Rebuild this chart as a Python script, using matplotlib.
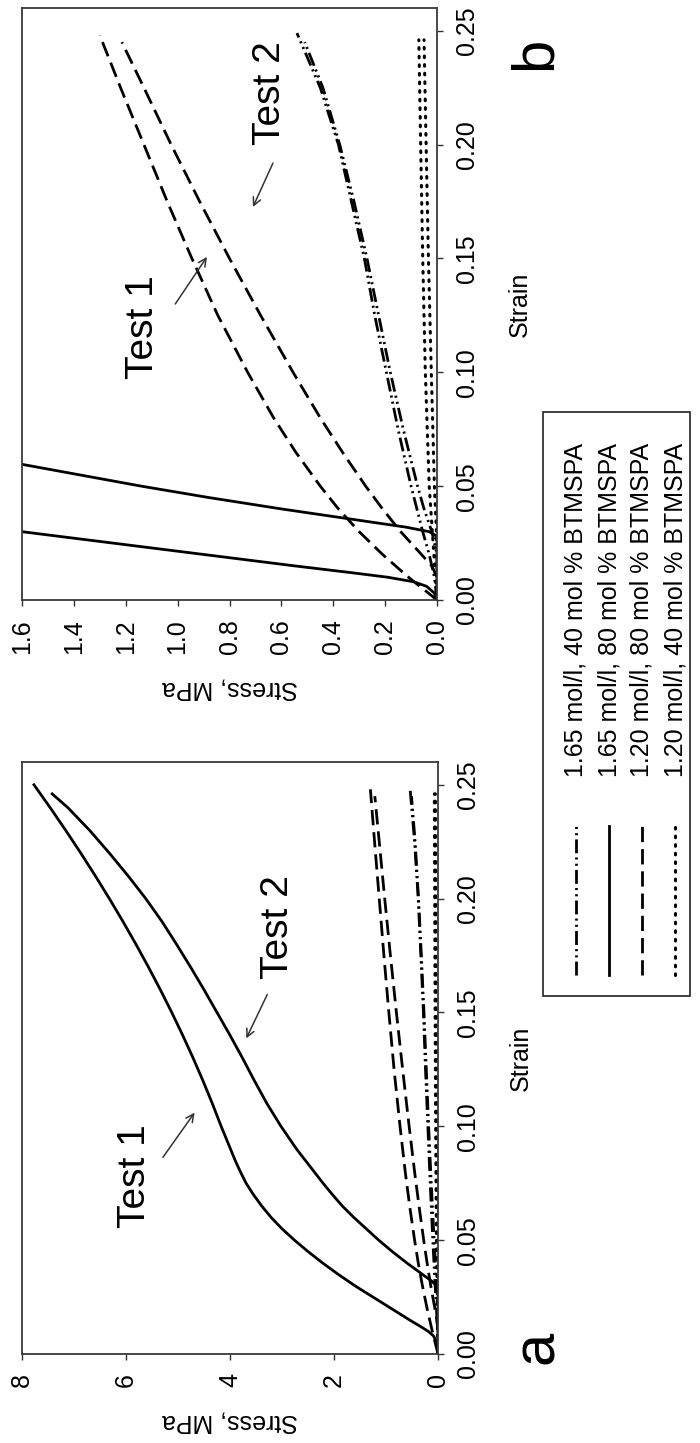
import matplotlib
matplotlib.use("Agg")
import matplotlib.pyplot as plt
from matplotlib.lines import Line2D
from matplotlib.patches import Rectangle

plt.rcParams['font.family'] = ['Liberation Sans', 'DejaVu Sans']
plt.rcParams['lines.scale_dashes'] = False

# stress-strain curves (strain, stress in MPa)
# 1.65 mol/l, 80 mol % BTMSPA (solid)
s80_t1_strain = [0, 0.003, 0.006, 0.008, 0.010, 0.012, 0.015, 0.020, 0.025, 0.030, 0.035,
                 0.040, 0.045, 0.050, 0.055, 0.060, 0.065, 0.070, 0.075, 0.080, 0.085,
                 0.090, 0.095, 0.100, 0.110, 0.120, 0.130, 0.140, 0.150, 0.160, 0.170,
                 0.180, 0.190, 0.200, 0.210, 0.220, 0.230, 0.240, 0.250]
s80_t1_stress = [0, 0.01, 0.04, 0.09, 0.19, 0.33, 0.55, 0.90, 1.25, 1.60, 1.92,
                 2.22, 2.50, 2.76, 3.00, 3.21, 3.39, 3.55, 3.69, 3.80, 3.90,
                 3.99, 4.08, 4.17, 4.34, 4.52, 4.71, 4.91, 5.12, 5.34, 5.57,
                 5.81, 6.06, 6.32, 6.59, 6.87, 7.16, 7.46, 7.77]
s80_t2_strain = [0, 0.028, 0.030, 0.032, 0.035, 0.040, 0.045, 0.050, 0.055, 0.060, 0.065,
                 0.070, 0.075, 0.080, 0.090, 0.100, 0.110, 0.120, 0.130, 0.140, 0.150,
                 0.160, 0.170, 0.180, 0.190, 0.200, 0.210, 0.220, 0.230, 0.240, 0.246]
s80_t2_stress = [0, 0.0, 0.03, 0.12, 0.30, 0.60, 0.88, 1.14, 1.38, 1.62, 1.84,
                 2.03, 2.21, 2.38, 2.72, 3.02, 3.29, 3.53, 3.76, 4.00, 4.25,
                 4.50, 4.76, 5.03, 5.31, 5.62, 5.96, 6.32, 6.70, 7.12, 7.42]

# 1.20 mol/l, 80 mol % BTMSPA (dashed)
d80_t1_strain = [0, 0.005, 0.01, 0.02, 0.03, 0.04, 0.05, 0.065, 0.08, 0.10, 0.125,
                 0.15, 0.175, 0.20, 0.225, 0.248]
d80_t1_stress = [0, 0.055, 0.11, 0.21, 0.30, 0.38, 0.45, 0.545, 0.63, 0.73, 0.845,
                 0.945, 1.04, 1.13, 1.22, 1.30]
d80_t2_strain = [0, 0.01, 0.015, 0.02, 0.03, 0.04, 0.05, 0.065, 0.08, 0.10, 0.125,
                 0.15, 0.175, 0.20, 0.225, 0.245]
d80_t2_stress = [0, 0.0, 0.02, 0.06, 0.14, 0.21, 0.275, 0.365, 0.45, 0.555, 0.68,
                 0.80, 0.915, 1.025, 1.13, 1.215]

# 1.65 mol/l, 40 mol % BTMSPA (dash-dot-dot)
s40_t1_strain = [0, 0.01, 0.02, 0.03, 0.05, 0.075, 0.10, 0.125, 0.15, 0.175, 0.20, 0.225, 0.249]
s40_t1_stress = [0, 0.01, 0.03, 0.055, 0.10, 0.15, 0.195, 0.24, 0.28, 0.33, 0.38, 0.45, 0.54]
s40_t2_strain = [0, 0.02, 0.03, 0.04, 0.05, 0.075, 0.10, 0.125, 0.15, 0.175, 0.20, 0.225, 0.245]
s40_t2_stress = [0, 0.0, 0.02, 0.05, 0.075, 0.13, 0.18, 0.225, 0.27, 0.32, 0.375, 0.44, 0.51]

# 1.20 mol/l, 40 mol % BTMSPA (dotted)
d40_t1_strain = [0, 0.02, 0.05, 0.10, 0.15, 0.20, 0.246]
d40_t1_stress = [0, 0.012, 0.03, 0.045, 0.055, 0.063, 0.07]
d40_t2_strain = [0, 0.03, 0.05, 0.10, 0.15, 0.20, 0.246]
d40_t2_stress = [0, 0.002, 0.01, 0.022, 0.033, 0.042, 0.05]

legend_labels = ['1.65 mol/l, 40 mol % BTMSPA', '1.65 mol/l, 80 mol % BTMSPA',
                 '1.20 mol/l, 80 mol % BTMSPA', '1.20 mol/l, 40 mol % BTMSPA']
strain_ticks = [0, 0.05, 0.10, 0.15, 0.20, 0.25]
stress_ticks_a = [0, 2, 4, 6, 8]
stress_ticks_b = [0, 0.2, 0.4, 0.6, 0.8, 1.0, 1.2, 1.4, 1.6]

styles = {
    '1.65/40': dict(color='black', lw=2.0, ls=(0, (10, 3, 1.5, 3, 1.5, 3))),
    '1.65/80': dict(color='black', lw=2.0, ls='-'),
    '1.20/80': dict(color='black', lw=2.0, ls=(0, (11, 5))),
    '1.20/40': dict(color='black', lw=2.2, ls=(0, (1.2, 5)), dash_capstyle='round'),
}
curves = [
    ('1.65/40', s40_t1_strain, s40_t1_stress), ('1.65/40', s40_t2_strain, s40_t2_stress),
    ('1.20/40', d40_t1_strain, d40_t1_stress), ('1.20/40', d40_t2_strain, d40_t2_stress),
    ('1.20/80', d80_t1_strain, d80_t1_stress), ('1.20/80', d80_t2_strain, d80_t2_stress),
    ('1.65/80', s80_t1_strain, s80_t1_stress), ('1.65/80', s80_t2_strain, s80_t2_stress),
]

W, H = 700, 1443
fig = plt.figure(figsize=(W / 100, H / 100), dpi=100)
ax_b = fig.add_axes([22 / W, 843 / H, 415 / W, 592 / H])
ax_a = fig.add_axes([22 / W, 89 / H, 416 / W, 592 / H])


def setup(ax, smax, sticks, fmt):
    # figure is shown turned by 90 degrees: strain runs upward, stress to the left
    for key, x, y in curves:
        ax.plot(y, x, **styles[key])
    ax.set_xlim(smax, 0)
    ax.set_ylim(0, 0.26)
    ax.set_xticks(sticks)
    ax.set_xticklabels([fmt.format(v) for v in sticks], rotation=90)
    ax.yaxis.tick_right()
    ax.set_yticks(strain_ticks)
    ax.set_yticklabels(['{:.2f}'.format(v) for v in strain_ticks])
    for lab in ax.get_yticklabels():
        lab.set_rotation(90)
        lab.set_va('center')
    ax.tick_params(axis='both', direction='out', length=4, width=1, labelsize=18,
                   color='#333333')
    ax.tick_params(axis='x', pad=10)
    ax.tick_params(axis='y', pad=9)
    for sp in ax.spines.values():
        sp.set_color('#3a3a3a')
        sp.set_linewidth(1.3)
    ax.set_xlabel('Stress, MPa', fontsize=18, rotation=180, labelpad=16)
    ax.yaxis.set_label_position('right')
    ax.set_ylabel('Strain', fontsize=18, rotation=90, labelpad=21)


setup(ax_a, 8, stress_ticks_a, '{:.0f}')
setup(ax_b, 1.6, stress_ticks_b, '{:.1f}')

arrow = dict(arrowstyle='->', color='#333333', lw=1.1, mutation_scale=14)
ax_a.text(5.82, 0.078, 'Test 1', fontsize=28, rotation=90, ha='center', va='center')
ax_a.text(3.07, 0.1875, 'Test 2', fontsize=28, rotation=90, ha='center', va='center')
ax_a.annotate('', xy=(4.65, 0.107), xytext=(5.32, 0.0854), arrowprops=arrow)
ax_a.annotate('', xy=(3.71, 0.1375), xytext=(3.26, 0.159), arrowprops=arrow)
ax_b.text(1.135, 0.120, 'Test 1', fontsize=28, rotation=90, ha='center', va='center')
ax_b.text(0.645, 0.2225, 'Test 2', fontsize=28, rotation=90, ha='center', va='center')
ax_b.annotate('', xy=(0.881, 0.1517), xytext=(1.015, 0.129), arrowprops=arrow)
ax_b.annotate('', xy=(0.714, 0.1715), xytext=(0.628, 0.193), arrowprops=arrow)

fig.text(538 / W, 1 - 1347 / H, 'a', fontsize=43, rotation=90, ha='center', va='center')
fig.text(535 / W, 1 - 53 / H, 'b', fontsize=43, rotation=90, ha='center', va='center')

# legend box, drawn by hand because its entries are turned as well
fig.add_artist(Rectangle((543 / W, 1 - 996 / H), 147 / W, 584 / H, transform=fig.transFigure,
                         fill=False, ec='#333333', lw=1.3))
legend_x = [576, 609, 642, 675]
for key, lab, xp in zip(['1.65/40', '1.65/80', '1.20/80', '1.20/40'], legend_labels, legend_x):
    fig.add_artist(Line2D([xp / W, xp / W], [1 - 975 / H, 1 - 826 / H],
                          transform=fig.transFigure, **styles[key]))
    fig.text(xp / W, 1 - 777 / H, lab, fontsize=18, rotation=90, ha='center', va='bottom')

fig.savefig('out.png', dpi=100)
